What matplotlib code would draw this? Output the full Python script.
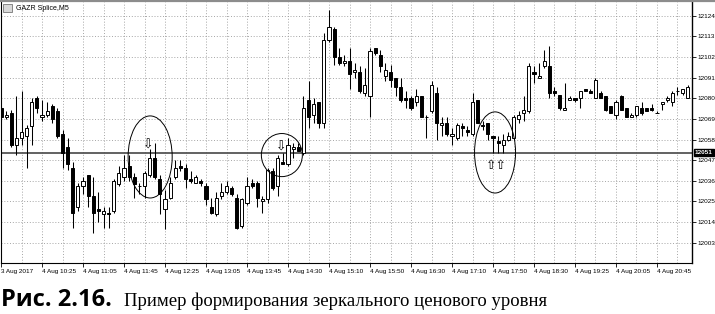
import matplotlib
matplotlib.use("Agg")
import matplotlib.pyplot as plt
from matplotlib.patches import Ellipse, Rectangle
from matplotlib.lines import Line2D
import matplotlib.transforms as mtransforms

# ---- data ----
opens = [12075, 12070, 12072, 12055, 12059, 12060, 12065, 12080, 12070, 12071,
         12076, 12073, 12061, 12054, 12043, 12022, 12033, 12039, 12028, 12021,
         12018, 12019, 12020, 12034, 12038, 12044, 12038, 12033, 12033, 12039,
         12048, 12037, 12021, 12027, 12038, 12044, 12043, 12037, 12035, 12036,
         12033, 12022, 12018, 12028, 12030, 12032, 12027, 12012, 12024, 12035,
         12035, 12025, 12026, 12041, 12033, 12046, 12045, 12053, 12054, 12051,
         12079, 12071, 12078, 12067, 12111, 12117, 12102, 12099, 12100, 12094,
         12094, 12083, 12081, 12107, 12103, 12092, 12094, 12091, 12086, 12080,
         12080, 12078, 12081, 12070, 12073, 12083, 12066, 12067, 12060, 12059,
         12065, 12063, 12061, 12079, 12066, 12067, 12060, 12057, 12055, 12058,
         12059, 12069, 12072, 12073, 12094, 12091, 12097, 12097, 12084, 12082,
         12074, 12079, 12080, 12080, 12085, 12084, 12080, 12083, 12081, 12076,
         12071, 12081, 12075, 12070, 12071, 12075, 12075, 12075, 12072, 12077,
         12079, 12078, 12084, 12083, 12080]
highs = [12076, 12073, 12074, 12081, 12084, 12066, 12080, 12081, 12079, 12078,
         12077, 12075, 12063, 12059, 12046, 12035, 12038, 12039, 12038, 12030,
         12022, 12022, 12037, 12044, 12050, 12050, 12040, 12035, 12041, 12053,
         12056, 12039, 12031, 12038, 12047, 12047, 12045, 12041, 12039, 12037,
         12035, 12027, 12030, 12035, 12036, 12033, 12029, 12027, 12038, 12037,
         12036, 12028, 12043, 12043, 12050, 12051, 12059, 12056, 12056, 12081,
         12089, 12080, 12078, 12115, 12127, 12118, 12107, 12103, 12107, 12099,
         12097, 12096, 12107, 12107, 12106, 12099, 12098, 12091, 12091, 12084,
         12081, 12085, 12081, 12071, 12089, 12086, 12070, 12070, 12064, 12067,
         12067, 12065, 12083, 12079, 12068, 12067, 12060, 12060, 12061, 12062,
         12071, 12073, 12081, 12099, 12097, 12099, 12106, 12108, 12086, 12082,
         12088, 12081, 12080, 12084, 12085, 12085, 12091, 12084, 12081, 12076,
         12079, 12082, 12075, 12072, 12076, 12078, 12075, 12077, 12073, 12078,
         12081, 12084, 12086, 12085, 12087]
lows = [12068, 12069, 12054, 12050, 12055, 12043, 12055, 12072, 12068, 12070,
        12067, 12059, 12043, 12042, 12011, 12020, 12029, 12022, 12008, 12014,
        12011, 12011, 12019, 12033, 12036, 12036, 12027, 12029, 12027, 12038,
        12037, 12018, 12010, 12026, 12037, 12041, 12032, 12035, 12035, 12033,
        12023, 12018, 12017, 12026, 12029, 12028, 12010, 12011, 12023, 12032,
        12022, 12019, 12024, 12031, 12028, 12045, 12044, 12048, 12052, 12050,
        12064, 12067, 12064, 12064, 12110, 12098, 12098, 12097, 12085, 12091,
        12083, 12081, 12070, 12103, 12094, 12089, 12086, 12081, 12078, 12075,
        12074, 12076, 12070, 12059, 12072, 12058, 12060, 12060, 12055, 12058,
        12060, 12060, 12060, 12067, 12063, 12058, 12051, 12051, 12051, 12057,
        12058, 12067, 12068, 12072, 12088, 12091, 12096, 12080, 12081, 12074,
        12074, 12079, 12078, 12075, 12084, 12083, 12080, 12080, 12073, 12072,
        12069, 12074, 12070, 12070, 12070, 12071, 12073, 12073, 12072, 12074,
        12078, 12076, 12082, 12082, 12080]
closes = [12070, 12071, 12055, 12059, 12062, 12064, 12078, 12075, 12071, 12073,
          12069, 12060, 12051, 12045, 12019, 12033, 12036, 12028, 12019, 12020,
          12020, 12018, 12036, 12040, 12043, 12038, 12034, 12033, 12040, 12048,
          12038, 12029, 12026, 12035, 12043, 12043, 12037, 12036, 12038, 12035,
          12026, 12019, 12027, 12030, 12033, 12029, 12011, 12026, 12033, 12033,
          12027, 12026, 12042, 12032, 12048, 12045, 12055, 12054, 12052, 12075,
          12070, 12077, 12067, 12111, 12118, 12102, 12099, 12100, 12093, 12095,
          12084, 12087, 12105, 12104, 12097, 12095, 12090, 12086, 12079, 12079,
          12075, 12081, 12070, 12070, 12087, 12067, 12067, 12061, 12061, 12066,
          12064, 12062, 12078, 12067, 12065, 12061, 12059, 12056, 12058, 12060,
          12070, 12071, 12074, 12097, 12093, 12092, 12100, 12083, 12083, 12075,
          12075, 12080, 12079, 12084, 12084, 12083, 12090, 12080, 12074, 12072,
          12078, 12074, 12070, 12071, 12076, 12072, 12073, 12074, 12072, 12078,
          12080, 12083, 12084, 12085, 12086]

price_ticks = [12003, 12014, 12025, 12036, 12047, 12058, 12069, 12080, 12091, 12102, 12113, 12124]
time_labels = ["3 Aug 2017", "4 Aug 10:25", "4 Aug 11:05", "4 Aug 11:45", "4 Aug 12:25",
               "4 Aug 13:05", "4 Aug 13:45", "4 Aug 14:30", "4 Aug 15:10", "4 Aug 15:50",
               "4 Aug 16:30", "4 Aug 17:10", "4 Aug 17:50", "4 Aug 18:30", "4 Aug 19:25",
               "4 Aug 20:05", "4 Aug 20:45"]
time_label_idx = [0, 8, 16, 24, 32, 40, 48, 56, 64, 72, 80, 88, 96, 104, 112, 120, 128]
level_price = 12051
chart_title = "GAZR Splice,M5"
caption_bold = "Рис. 2.16."
caption_text = "Пример формирования зеркального ценового уровня"

# ---- figure ----
W, H = 715, 314
fig = plt.figure(figsize=(W / 100, H / 100), dpi=100)
fig.patch.set_facecolor("white")
ax_l, ax_r, ax_t, ax_b = 0.5, 692, 2, 263
ax = fig.add_axes([ax_l / W, 1 - ax_b / H, (ax_r - ax_l) / W, (ax_b - ax_t) / H])
n = len(opens)
ax.set_xlim(-0.1, 134.83)
ax.set_ylim(11992.1, 12131.4)

small_font = "Liberation Sans"

# grid
gridkw = dict(color="#9a9a9a", lw=0.6, ls=(0, (1.2, 2.2)), zorder=0)
for p in price_ticks:
    ax.axhline(p, **gridkw)
for i in range(4, n + 1, 4):
    ax.axvline(i, **gridkw)

# level line
ax.axhline(level_price, color="#555555", lw=1.3, zorder=1)

# candles
xs = list(range(n))
ax.vlines(xs, lows, highs, color="black", lw=0.75, zorder=2)
for i in range(n):
    o, c = opens[i], closes[i]
    bottom = min(o, c)
    h = abs(c - o)
    fc = "white" if c >= o else "black"
    ax.bar(i, h if h > 0 else 0.01, bottom=bottom, width=0.6, color=fc,
           edgecolor="black", linewidth=0.7, zorder=3)

# ellipses (annotation)
for (cx, cy, w, hh) in [(29.1, 12048.7, 8.6, 43.8), (54.8, 12049.7, 8.0, 23.0), (96.4, 12051.1, 8.0, 43.3)]:
    ax.add_patch(Ellipse((cx, cy), w, hh, fill=False, edgecolor="black", lw=0.7, zorder=4))

# arrows
arrow_kw = dict(fontsize=9, ha="center", va="center", zorder=5, family="DejaVu Sans")
ax.text(28.7, 12055.1, "⇩", **arrow_kw)
ax.text(54.6, 12054.0, "⇩", **arrow_kw)
ax.text(96.6, 12044.4, "⇧⇧", **arrow_kw)

# spines
ax.spines["top"].set_visible(False)
ax.spines["right"].set_linewidth(1.0)
ax.spines["left"].set_linewidth(0.8)
ax.spines["bottom"].set_linewidth(0.8)

# ticks
ax.yaxis.tick_right()
ax.set_yticks(price_ticks)
ax.set_yticklabels([str(p) for p in price_ticks], fontsize=4.6, family=small_font)
ax.tick_params(axis="y", length=3, width=0.6, pad=1, direction="out")
ax.set_xticks(time_label_idx)
ax.set_xticklabels(time_labels, fontsize=4.6, family=small_font)
ax.tick_params(axis="x", length=3, width=0.6, pad=1.5, direction="out")
for lab in ax.get_xticklabels():
    lab.set_horizontalalignment("left")

# current level label box
trans = mtransforms.blended_transform_factory(ax.transAxes, ax.transData)
ax.text(1.004, level_price, str(level_price), transform=trans, fontsize=4.6, color="white",
        fontweight="bold", family=small_font, ha="left", va="center",
        bbox=dict(boxstyle="square,pad=0.15", fc="black", ec="black"), zorder=6, clip_on=False)

# top gray border
fig.add_artist(Line2D([0, 1], [1 - 1 / H, 1 - 1 / H], color="#8c8c8c", lw=1.6))

# title with icon
fig.add_artist(Rectangle((3 / W, 1 - 12 / H), 9 / W, 8 / H, fill=True, fc="#d8d8d8", ec="#777777", lw=0.6))
fig.text(16 / W, 1 - 8 / H, chart_title, fontsize=5, family=small_font, ha="left", va="center")

# caption
fig.text(1 / W, 1 - 306 / H, caption_bold, fontsize=17, fontweight="bold",
         family="Open Sans", ha="left", va="baseline")
fig.text(124 / W, 1 - 306 / H, caption_text, fontsize=13.5, family="Liberation Serif",
         ha="left", va="baseline")

fig.savefig("out.png", dpi=100)
